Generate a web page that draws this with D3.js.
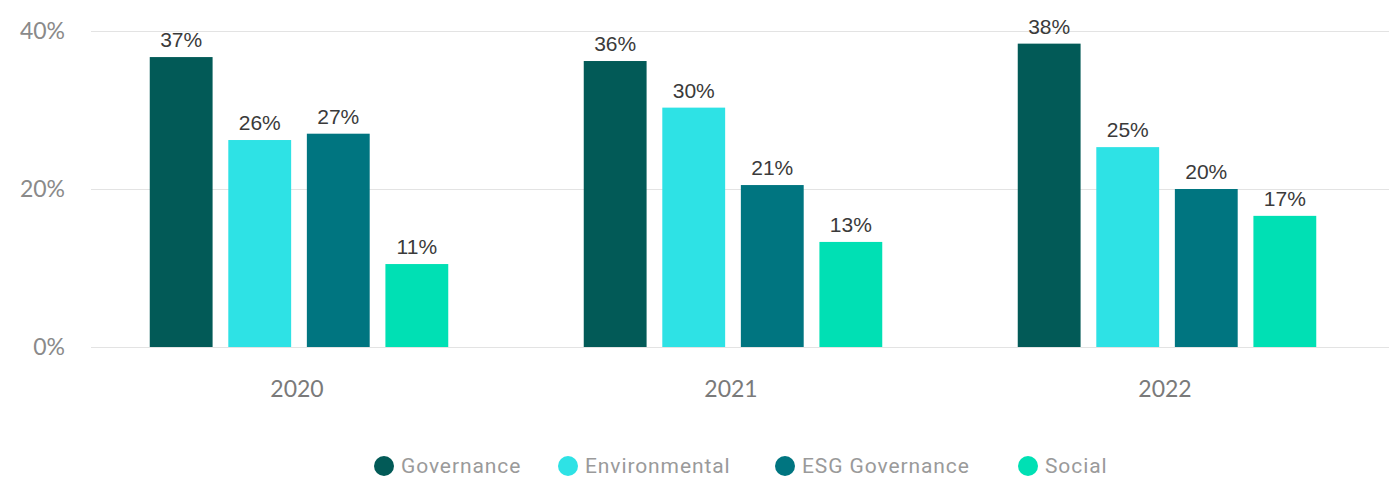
<!DOCTYPE html>
<html>
<head>
<meta charset="utf-8">
<script src="https://cdn.jsdelivr.net/npm/d3@7"></script>
<style>
  body { margin: 0; background: #fff; }
  svg { display: block; }
</style>
</head>
<body>
<svg id="chart"></svg>
<script>
// data
const years = ["2020", "2021", "2022"];
const series = ["Governance", "Environmental", "ESG Governance", "Social"];
const governance = [36.7, 36.2, 38.4];
const environmental = [26.2, 30.3, 25.3];
const esgGovernance = [27.0, 20.5, 20.0];
const social = [10.5, 13.3, 16.6];
const labels = [["37%", "26%", "27%", "11%"], ["36%", "30%", "21%", "13%"], ["38%", "25%", "20%", "17%"]];
const yTicks = [0, 20, 40];
const colors = ["#025a57", "#2ee2e5", "#007580", "#00e0b4"];

const width = 1389;
const height = 479;

const svg = d3.select("#chart")
  .attr("width", width)
  .attr("height", height);

const values = [governance, environmental, esgGovernance, social];
const data = years.map((yr, i) => ({
  year: yr,
  items: series.map((s, j) => ({ key: s, value: values[j][i], label: labels[i][j], color: colors[j] }))
}));

// scales
const x0 = d3.scaleBand()
  .domain(years)
  .range([82, 1384])
  .paddingInner(0.276)
  .paddingOuter(0.138);

const x1 = d3.scaleBand()
  .domain(series)
  .range([0, x0.bandwidth()])
  .paddingInner(0.2)
  .paddingOuter(0.1);

const y = d3.scaleLinear()
  .domain([0, 40])
  .range([347, 31]);

// gridlines
svg.append("g")
  .selectAll("line")
  .data(yTicks)
  .join("line")
  .attr("x1", 91)
  .attr("x2", width)
  .attr("y1", d => y(d) + 0.5)
  .attr("y2", d => y(d) + 0.5)
  .attr("stroke", "#e3e3e3")
  .attr("stroke-width", 1);

// y labels
svg.append("g")
  .selectAll("text")
  .data(yTicks)
  .join("text")
  .attr("x", 65)
  .attr("y", d => y(d))
  .attr("dy", "0.35em")
  .attr("text-anchor", "end")
  .attr("font-family", "Lato, sans-serif")
  .attr("font-size", "23px")
  .attr("fill", "#8a8a8a")
  .text(d => d + "%");

// groups
const groups = svg.append("g")
  .selectAll("g")
  .data(data)
  .join("g")
  .attr("transform", d => `translate(${x0(d.year)},0)`);

groups.selectAll("rect")
  .data(d => d.items)
  .join("rect")
  .attr("x", d => x1(d.key))
  .attr("y", d => y(d.value))
  .attr("width", x1.bandwidth())
  .attr("height", d => y(0) - y(d.value))
  .attr("fill", d => d.color);

groups.selectAll("text")
  .data(d => d.items)
  .join("text")
  .attr("x", d => x1(d.key) + x1.bandwidth() / 2)
  .attr("y", d => y(d.value) - 10)
  .attr("text-anchor", "middle")
  .attr("font-family", "'Liberation Sans', Arial, sans-serif")
  .attr("font-size", "21px")
  .attr("fill", "#3a3a3a")
  .text(d => d.label);

// x labels
svg.append("g")
  .selectAll("text")
  .data(years)
  .join("text")
  .attr("x", d => x0(d) + x0.bandwidth() / 2 - 2)
  .attr("y", 389)
  .attr("dy", "0.35em")
  .attr("text-anchor", "middle")
  .attr("font-family", "Lato, sans-serif")
  .attr("font-size", "23px")
  .attr("fill", "#7a7a7a")
  .text(d => d);

// legend
const legendX = [384, 568, 785, 1028];
const legend = svg.append("g")
  .selectAll("g")
  .data(series)
  .join("g")
  .attr("transform", (d, i) => `translate(${legendX[i]},466)`);

legend.append("circle")
  .attr("r", 10)
  .attr("fill", (d, i) => colors[i]);

legend.append("text")
  .attr("x", 17)
  .attr("dy", "0.35em")
  .attr("font-family", "Roboto, sans-serif")
  .attr("font-size", "21px")
  .attr("letter-spacing", "0.9px")
  .attr("fill", "#9a9a9a")
  .text(d => d);
</script>
</body>
</html>
